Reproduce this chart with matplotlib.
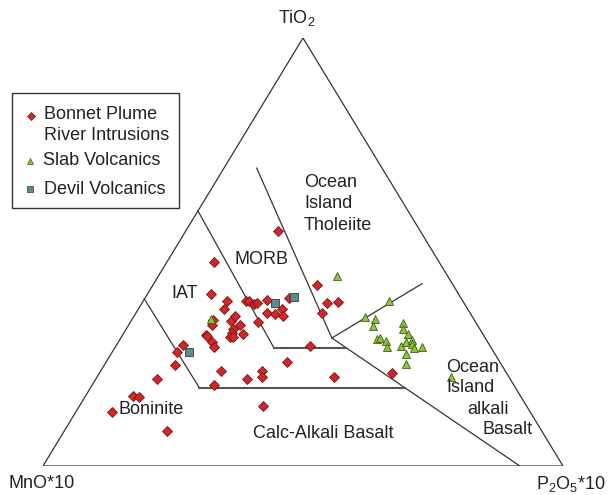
import numpy as np
import matplotlib.pyplot as plt
from matplotlib.patches import Rectangle

plt.rcParams['font.family'] = ['Liberation Sans', 'DejaVu Sans']
plt.rcParams['mathtext.fontset'] = 'custom'
plt.rcParams['mathtext.rm'] = 'Liberation Sans'

# compositions in normalised % : TiO2, MnO*10, P2O5*10
bp_tio2 = [47.6, 55.0, 40.1, 38.6, 38.6, 38.6, 37.9, 38.0, 38.8, 39.2, 36.6, 35.8, 35.5,
           36.6, 35.0, 34.1, 32.9, 33.9, 35.1, 32.9, 33.7, 32.1, 31.1, 30.8, 30.6, 30.4,
           30.1, 30.1, 28.9, 27.9, 28.3, 26.7, 23.6, 24.2, 20.3, 22.1, 18.9, 20.4, 22.1,
           20.8, 20.9, 16.4, 16.1, 12.6, 8.2, 14.1, 42.4, 38.0, 38.4, 35.8, 28.0, 21.7]
bp_mno = [43.3, 27.4, 47.7, 45.3, 41.7, 41.2, 40.5, 39.9, 37.5, 33.0, 46.9, 39.0, 37.6,
          35.8, 36.3, 50.2, 51.1, 46.9, 45.5, 45.7, 41.8, 47.5, 48.1, 46.2, 53.3, 53.2,
          49.0, 48.5, 53.0, 53.1, 59.0, 60.9, 62.8, 41.0, 68.0, 54.8, 57.6, 50.6, 46.8,
          47.6, 33.6, 74.4, 73.4, 80.4, 72.1, 50.6, 26.2, 26.3, 24.0, 28.5, 34.6, 22.0]
bp_p2o5 = [9.1, 17.6, 12.2, 16.2, 19.8, 20.3, 21.6, 22.1, 23.7, 27.8, 16.5, 25.2, 26.9,
           27.6, 28.7, 15.7, 16.1, 19.2, 19.4, 21.4, 24.5, 20.4, 20.7, 23.0, 16.1, 16.4,
           20.9, 21.4, 18.1, 19.0, 12.7, 12.4, 13.6, 34.8, 11.7, 23.1, 23.5, 29.0, 31.1,
           31.7, 45.6, 9.2, 10.5, 7.0, 19.7, 35.3, 31.4, 35.7, 37.6, 35.7, 37.3, 56.3]

slab_tio2 = [34.3, 44.5, 38.7, 34.7, 34.3, 32.7, 29.6, 29.8, 29.2, 27.9, 33.3, 31.9,
             30.8, 28.1, 29.0, 29.5, 28.4, 27.5, 27.7, 26.2, 23.8, 20.7]
slab_mno = [50.6, 21.2, 14.1, 20.7, 19.1, 20.1, 20.9, 20.2, 19.5, 19.9, 14.2, 14.8,
            14.3, 17.2, 15.7, 14.3, 14.9, 15.0, 13.3, 17.1, 18.2, 11.2]
slab_p2o5 = [15.1, 34.3, 47.3, 44.6, 46.6, 47.2, 49.5, 50.0, 51.4, 52.3, 52.5, 53.3,
             54.8, 54.7, 55.3, 56.2, 56.7, 57.5, 59.0, 56.7, 58.0, 68.1]

devil_tio2 = [38.2, 39.4, 26.6]
devil_mno = [36.3, 32.0, 58.7]
devil_p2o5 = [25.5, 28.6, 14.7]

# field boundaries (TiO2, MnO*10, P2O5*10)
bon_iat = [(39.0, 61.0, 0.0), (18.3, 60.8, 20.9)]
cab_top = [(18.3, 60.8, 20.9), (18.3, 21.2, 60.5)]
iat_morb = [(59.6, 40.4, 0.0), (27.5, 41.8, 30.7)]
morb_low = [(27.5, 41.8, 30.7), (27.5, 27.9, 44.6)]
morb_oit = [(69.6, 24.1, 6.3), (29.9, 29.5, 40.6), (0.0, 8.3, 91.7)]
oit_oia = [(29.9, 29.5, 40.6), (42.6, 5.8, 51.6)]


def tern_xy(t, m, p):
    t = np.asarray(t, float)
    m = np.asarray(m, float)
    p = np.asarray(p, float)
    s = t + m + p
    return (p + t / 2.0) / s, t / s


def draw_line(ax, pts, **kw):
    t, m, p = zip(*pts)
    x, y = tern_xy(t, m, p)
    ax.plot(x, y, **kw)


W, H = 610, 495
fig = plt.figure(figsize=(W / 100, H / 100), dpi=100)
ax = fig.add_axes([43 / W, (H - 466) / H, 520 / W, 428 / H])
ax.set_xlim(0, 1)
ax.set_ylim(0, 1)
ax.axis('off')

edge = '#333333'
draw_line(ax, [(100, 0, 0), (0, 100, 0), (0, 0, 100), (100, 0, 0)], color=edge, lw=0.9)
for seg in [bon_iat, iat_morb, morb_oit, oit_oia]:
    draw_line(ax, seg, color=edge, lw=0.9)
for seg in [cab_top, morb_low]:
    draw_line(ax, seg, color='#555555', lw=1.5)

x, y = tern_xy(bp_tio2, bp_mno, bp_p2o5)
ax.plot(x, y, 'D', ms=5.5, mfc='#d0282a', mec='#7a1212', mew=0.6, ls='none', clip_on=False)
x, y = tern_xy(slab_tio2, slab_mno, slab_p2o5)
ax.plot(x, y, '^', ms=5.8, mfc='#8cc43c', mec='#3d5e14', mew=0.6, ls='none', clip_on=False)
x, y = tern_xy(devil_tio2, devil_mno, devil_p2o5)
ax.plot(x, y, 's', ms=6, mfc='#5e8c8e', mec='#2c3e40', mew=0.6, ls='none', clip_on=False)


def ftext(px, py, s, ha='left', **kw):
    fig.text(px / W, 1 - py / H, s, ha=ha, va='center', fontsize=13, color='#222222', **kw)


ftext(297, 18, r'TiO$_\mathregular{2}$', ha='center')
ftext(8, 484, 'MnO*10')
ftext(606, 484, r'P$_\mathregular{2}$O$_\mathregular{5}$*10', ha='right')

ftext(261, 259, 'MORB', ha='center')
ftext(185, 293, 'IAT', ha='center')
ftext(119, 409, 'Boninite')
ftext(323, 433, 'Calc-Alkali Basalt', ha='center')
for s, py in [('Ocean', 183), ('Island', 204), ('Tholeiite', 225)]:
    ftext(304, py, s)
for s, px, py in [('Ocean', 446, 367), ('Island', 446, 388), ('alkali', 467, 409), ('Basalt', 483, 430)]:
    ftext(px, py, s)

# legend
fig.patches.append(Rectangle((12.5 / W, 1 - 208 / H), (179 - 12.5) / W, (208 - 93) / H,
                             transform=fig.transFigure, fill=False, ec='#333333', lw=1))
ax.plot([30.5 / W], [1 - 115.5 / H], 'D', ms=4.2, mfc='#d0282a', mec='#7a1212', mew=0.5,
        transform=fig.transFigure, clip_on=False)
ax.plot([30 / W], [1 - 160.5 / H], '^', ms=5, mfc='#8cc43c', mec='#3d5e14', mew=0.5,
        transform=fig.transFigure, clip_on=False)
ax.plot([30 / W], [1 - 188.5 / H], 's', ms=4.6, mfc='#5e8c8e', mec='#2c3e40', mew=0.5,
        transform=fig.transFigure, clip_on=False)
ftext(44, 115, 'Bonnet Plume')
ftext(44, 135, 'River Intrusions')
ftext(43, 160, 'Slab Volcanics')
ftext(44, 190, 'Devil Volcanics')

fig.savefig('out.png', dpi=100)
